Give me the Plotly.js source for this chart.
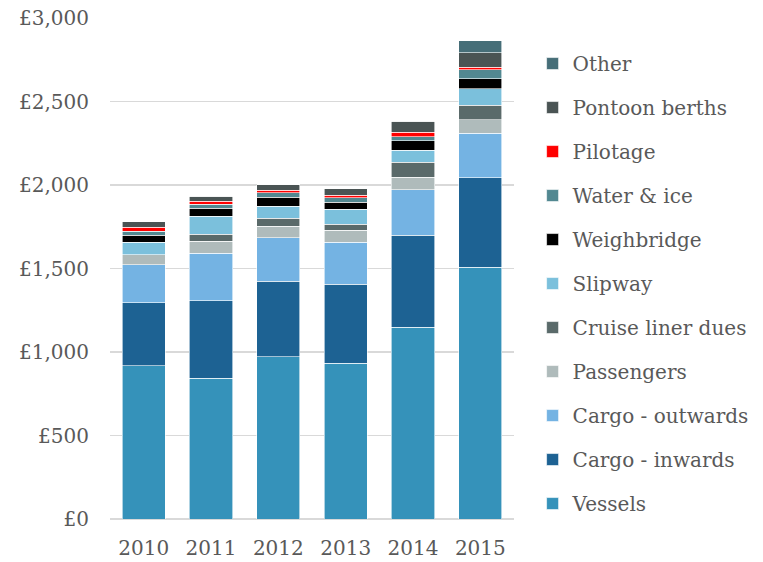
<!DOCTYPE html>
<html>
<head>
<meta charset="utf-8">
<script src="https://cdn.plot.ly/plotly-3.0.1.min.js"></script>
<style>html,body{margin:0;padding:0;background:#fff;}#chart{width:763px;height:562px;}</style>
</head>
<body>
<div id="chart"></div>
<script>
const years = ['2010', '2011', '2012', '2013', '2014', '2015'];
const vessels        = [919, 843, 973, 933, 1148, 1508];
const cargoInwards   = [377, 465, 452, 474, 552, 535];
const cargoOutwards  = [225, 284, 260, 251, 272, 267];
const passengers     = [62, 72, 69, 70, 73, 82];
const cruiseLiner    = [0, 42, 48, 38, 92, 86];
const slipway        = [75, 108, 72, 90, 71, 99];
const weighbridge    = [42, 48, 53, 41, 58, 58];
const waterIce       = [22, 24, 28, 27, 23, 54];
const pilotage       = [26, 17, 14, 15, 27, 16];
const pontoonBerths  = [32, 30, 34, 39, 66, 88];
const other          = [0, 0, 0, 0, 0, 71];

const seriesNames = ['Vessels', 'Cargo - inwards', 'Cargo - outwards', 'Passengers', 'Cruise liner dues',
  'Slipway', 'Weighbridge', 'Water & ice', 'Pilotage', 'Pontoon berths', 'Other'];
const seriesValues = [vessels, cargoInwards, cargoOutwards, passengers, cruiseLiner,
  slipway, weighbridge, waterIce, pilotage, pontoonBerths, other];
const seriesColors = ['#3592BA', '#1D6293', '#74B3E3', '#AFBBBB', '#5A6A6A',
  '#7BC0DC', '#000000', '#528891', '#FF0000', '#4A5454', '#466E78'];

const traces = seriesNames.map((n, i) => ({
  type: 'bar',
  name: n,
  x: years,
  y: seriesValues[i],
  legendgroup: 'g' + i,
  legendrank: 1000 - i,
  marker: {color: seriesColors[i], line: {color: '#ffffff', width: 0.6}},
  hoverinfo: 'name+y'
}));

const font = {family: '"DejaVu Serif", "Liberation Serif", serif', size: 20, color: '#595959'};

const layout = {
  width: 763, height: 562,
  margin: {l: 110, r: 249, t: 18, b: 43, autoexpand: false},
  barmode: 'stack',
  bargap: 0.36,
  font: font,
  paper_bgcolor: '#ffffff',
  plot_bgcolor: '#ffffff',
  showlegend: true,
  legend: {
    traceorder: 'grouped',
    tracegroupgap: 15,
    x: 1.046, xanchor: 'left',
    y: 0.948, yanchor: 'top',
    font: font,
    bgcolor: 'rgba(0,0,0,0)'
  },
  xaxis: {
    type: 'category',
    showgrid: false,
    showline: false,
    ticks: '',
    tickfont: font,
    ticklabelstandoff: 15
  },
  yaxis: {
    range: [0, 3000],
    dtick: 500,
    tickprefix: '£',
    tickformat: ',',
    showgrid: true,
    gridcolor: '#d9d9d9',
    gridwidth: 1.5,
    zeroline: true,
    zerolinecolor: '#d9d9d9',
    zerolinewidth: 1.5,
    showline: false,
    ticks: '',
    tickfont: font,
    ticklabelstandoff: 20,
    fixedrange: true
  }
};

Plotly.newPlot('chart', traces, layout, {displayModeBar: false, staticPlot: true});
</script>
</body>
</html>
